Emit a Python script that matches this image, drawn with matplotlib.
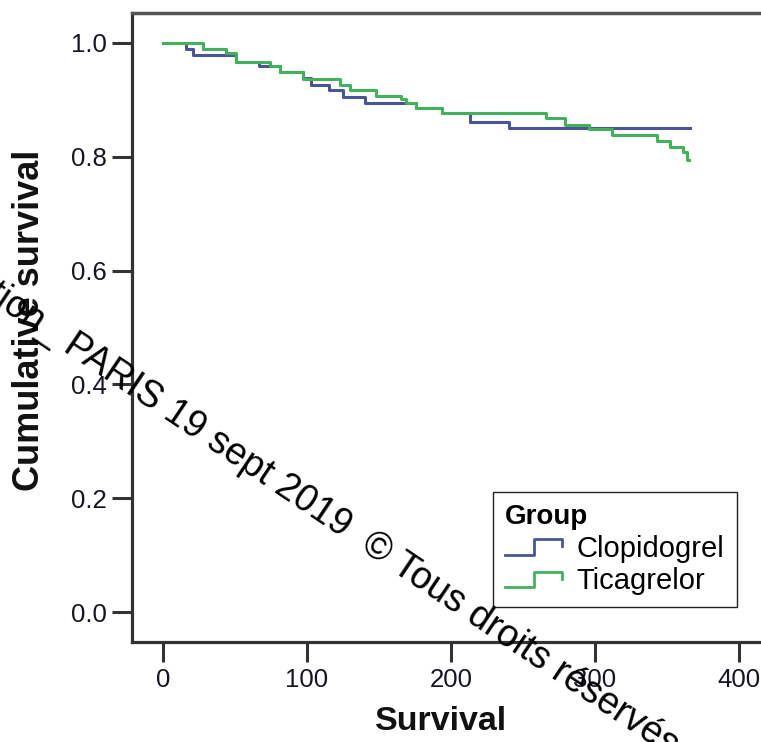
import matplotlib
matplotlib.use("Agg")
import matplotlib.pyplot as plt
import numpy as np
from matplotlib.lines import Line2D
from matplotlib.legend_handler import HandlerBase
from matplotlib.textpath import TextToPath
from matplotlib.font_manager import FontProperties

plt.rcParams['font.family'] = ['Liberation Sans', 'DejaVu Sans']

# ---------------- data ----------------
clop_t = [0, 16, 21, 51, 67, 81, 97, 103, 115, 125, 140, 176, 194, 213, 240, 366]
clop_s = [1.0, 0.989, 0.979, 0.967, 0.959, 0.949, 0.938, 0.926, 0.917, 0.905, 0.894,
          0.886, 0.877, 0.862, 0.851, 0.851]

tica_t = [0, 28, 44, 51, 74, 81, 97, 123, 130, 148, 165, 169, 176, 194, 266, 279,
          296, 312, 343, 352, 361, 364, 365]
tica_s = [1.0, 0.989, 0.982, 0.967, 0.959, 0.949, 0.937, 0.926, 0.917, 0.907, 0.902,
          0.894, 0.886, 0.877, 0.868, 0.856, 0.849, 0.838, 0.827, 0.818, 0.809, 0.795,
          0.795]

group_labels = ["Clopidogrel", "Ticagrelor"]
x_ticks = [0, 100, 200, 300, 400]
y_ticks = [0.0, 0.2, 0.4, 0.6, 0.8, 1.0]
x_label = "Survival"
y_label = "Cumulative survival"
legend_title = "Group"
watermark_prefix = "Présentation_ "
watermark_main = "PARIS 19 sept 2019  © Tous droits réservés"

clop_color = "#4a5595"
tica_color = "#44b05c"

W, H = 761, 742
fig = plt.figure(figsize=(W / 100, H / 100), dpi=100)
fig.patch.set_facecolor("white")

ax_left, ax_right, ax_top, ax_bot = 132, 761, 13, 642
ax = fig.add_axes([ax_left / W, 1 - ax_bot / H, (ax_right - ax_left) / W, (ax_bot - ax_top) / H])

# pixel mapping: x = 163 + 1.44 t ; y = 612 - 569 S
ax.set_xlim((ax_left - 163) / 1.44, (ax_right - 163) / 1.44)
ax.set_ylim((612 - ax_bot) / 569, (612 - ax_top) / 569)

ax.step(clop_t, clop_s, where="post", color=clop_color, lw=2.2, zorder=3)
ax.step(tica_t, tica_s, where="post", color=tica_color, lw=2.2, zorder=3)

spine_col = "#333333"
for s in ["left", "bottom"]:
    ax.spines[s].set_linewidth(2.3)
    ax.spines[s].set_color(spine_col)
ax.spines["top"].set_linewidth(2.5)
ax.spines["top"].set_color("#555555")
ax.spines["right"].set_visible(False)

ax.set_xticks(x_ticks)
ax.set_xticklabels([str(v) for v in x_ticks])
ax.set_yticks(y_ticks)
ax.set_yticklabels([f"{v:.1f}" for v in y_ticks])
ax.tick_params(axis="both", direction="out", length=14.4, width=2.2, color=spine_col,
               labelsize=18.5, labelcolor="#151525")
ax.tick_params(axis="x", pad=4)
ax.tick_params(axis="y", pad=3.5)

fig.text(30 / W, 1 - 320 / H, y_label, rotation=90, ha="center", va="center",
         fontsize=26, fontweight="bold", color="#111111")
fig.text(441 / W, 1 - 722 / H, x_label, ha="center", va="center",
         fontsize=24.5, fontweight="bold", color="#111111")


class StepHandler(HandlerBase):
    def create_artists(self, legend, orig_handle, xdescent, ydescent, width, height, fontsize, trans):
        c = orig_handle.get_color()
        xs = np.array([0.0, 0.48, 0.48, 0.95, 0.95]) * width - xdescent
        ys = np.array([0.1, 0.1, 0.85, 0.85, 0.5]) * height - ydescent
        ln = Line2D(xs, ys, color=c, lw=2.0, transform=trans)
        return [ln]


handles = [Line2D([], [], color=clop_color), Line2D([], [], color=tica_color)]
leg = fig.legend(handles, group_labels, title=legend_title, loc="upper left",
                 bbox_to_anchor=(493 / W, 1 - 492 / H), bbox_transform=fig.transFigure,
                 borderaxespad=0, fontsize=21, title_fontproperties={"weight": "bold", "size": 20},
                 handler_map={Line2D: StepHandler()}, handlelength=2.05, handletextpad=0.4,
                 frameon=True, fancybox=False, framealpha=1, edgecolor="#222222",
                 alignment="left", labelspacing=0.15, borderpad=0.42)
leg.get_frame().set_linewidth(1.0)

# watermark
angle = 33.8
fs = 27
prop = FontProperties(family="Liberation Sans", size=fs)
wpre = TextToPath().get_text_width_height_descent(watermark_prefix, prop, ismath=False)[0]
wpre_px = wpre * 100 / 72
sx, sy = 61, 350  # pixel start of "PARIS" baseline (image coords, y down)
th = np.deg2rad(angle)
px0 = sx - wpre_px * np.cos(th)
py0 = sy - wpre_px * np.sin(th)
fig.text(px0 / W, 1 - py0 / H, watermark_prefix + watermark_main, rotation=-angle,
         rotation_mode="anchor", ha="left", va="baseline", fontsize=fs,
         family="Liberation Sans", color="black", zorder=10)

fig.savefig("out.png", dpi=100, facecolor="white")
